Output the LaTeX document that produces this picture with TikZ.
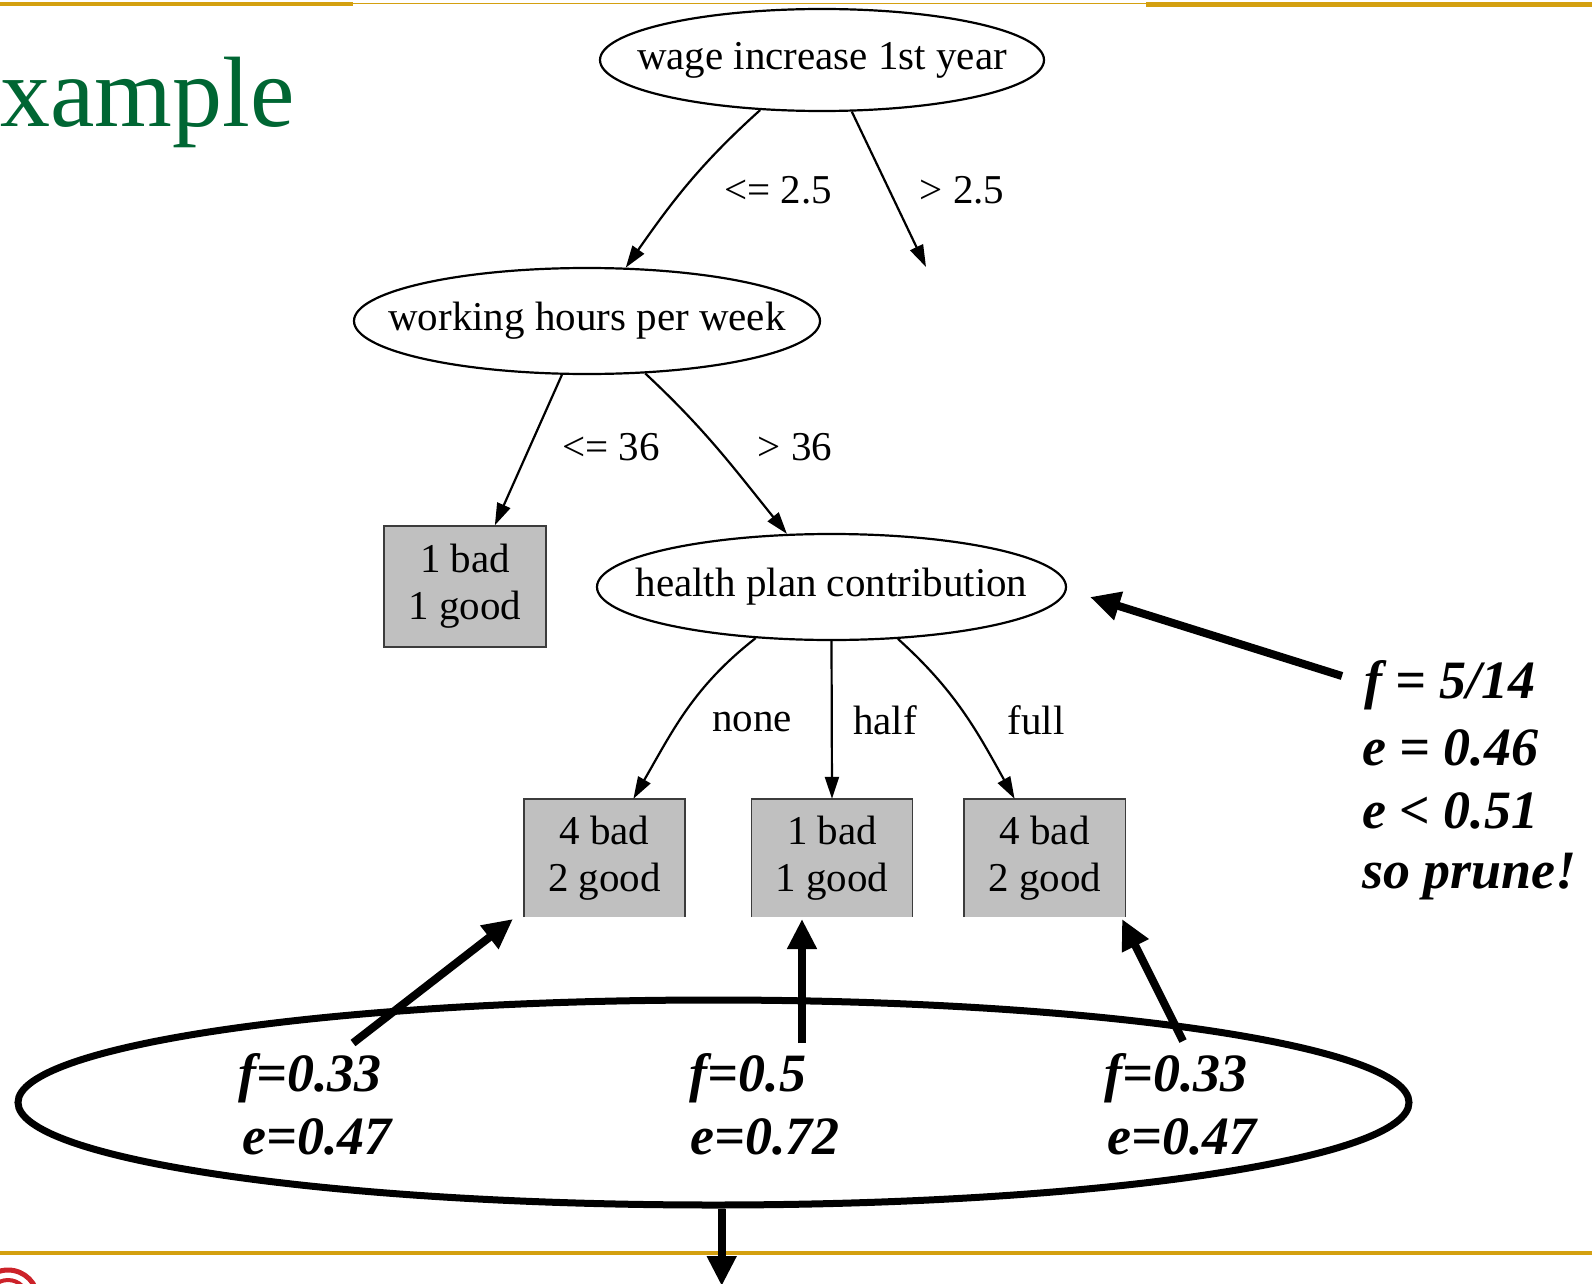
\documentclass[tikz,border=0pt]{standalone}
\usepackage{fontspec}
\setmainfont{Liberation Serif}
\usetikzlibrary{arrows.meta,shapes.geometric,calc}
\definecolor{gold}{RGB}{212,160,16}
\definecolor{titlegreen}{RGB}{0,102,51}
\definecolor{boxgray}{RGB}{192,192,192}
\definecolor{boxline}{RGB}{60,60,60}
\definecolor{logored}{RGB}{204,34,41}
\begin{document}
\begin{tikzpicture}[x=1pt,y=1pt,
  treefont/.style={font=\fontsize{41}{47}\selectfont},
  ell/.style={ellipse, draw, line width=2.2pt, inner sep=0pt},
  leaf/.style={rectangle, fill=boxgray, inner sep=0pt, align=center, treefont},
  edge/.style={line width=2.2pt, -{Triangle[length=22pt,width=14pt]}},
  lbl/.style={inner sep=0pt, treefont},
  bigarrow/.style={line width=8pt, -{Triangle[length=30pt,width=28pt]}},
  note/.style={inner sep=0pt, anchor=base west, font=\fontsize{54}{64}\selectfont\bfseries\itshape},
  bnote/.style={inner sep=0pt, anchor=base, font=\fontsize{54}{64}\selectfont\bfseries\itshape}
]
\useasboundingbox (0,0) rectangle (1592,-1284);

% slide decorations
\fill[gold] (0,-2.5) rectangle (353,-6.5);
\draw[gold, line width=1.2pt] (353,-3.3) -- (1146,-3.3);
\fill[gold] (1146,-2.5) rectangle (1592,-6.7);
\fill[gold] (0,-1251) rectangle (1592,-1255);
\draw[logored, line width=5pt] (8,-1300) circle (30);
\draw[logored, line width=4pt] (8,-1300) circle (20);
\node[anchor=base east, inner sep=0pt, text=titlegreen, font=\fontsize{100}{110}\selectfont] (title) at (295,-127) {xample};

% tree nodes
\node[ell, minimum width=444, minimum height=102, label={[treefont]center:wage increase 1st year}] (root) at (822,-60) {};
\node[ell, minimum width=466, minimum height=106, label={[treefont]center:working hours per week}] (wh) at (587,-321) {};
\node[ell, minimum width=469, minimum height=106, label={[treefont]center:health plan contribution}] (hp) at (831.5,-587) {};

\node[leaf, minimum width=162, minimum height=121, draw=boxline, line width=1.5pt] (lb) at (465,-586.5) {1 bad\\1 good};
\node[leaf, minimum width=161, minimum height=118] (b1) at (604.5,-858) {4 bad\\2 good};
\node[leaf, minimum width=161, minimum height=118] (b2) at (832,-858) {1 bad\\1 good};
\node[leaf, minimum width=161, minimum height=118] (b3) at (1044.75,-858) {4 bad\\2 good};
\foreach \b in {b1,b2,b3}
  \draw[boxline, line width=1.5pt] (\b.south west) -- (\b.north west) -- (\b.north east) -- (\b.south east);

% tree edges
\coordinate (rend) at (926,-267);
\draw[edge] (root.219) to[out=-138,in=55] (wh.54);
\draw[edge] (root.-60) -- (rend);
\draw[edge] (wh.245) -- (lb.64.6);
\draw[edge] (wh.-42) to[out=-43,in=129] (hp.130.6);
\draw[edge] (hp.214.8) to[out=-142,in=60] (b1.64.6);
\draw[edge] (hp.south) -- (b2.north);
\draw[edge] (hp.-38.9) to[out=-42,in=119] (b3.117.9);

% edge labels
\node[lbl] (l1) at (778,-190) {<= 2.5};
\node[lbl] (l2) at (962,-190) {> 2.5};
\node[lbl] (l3) at (611,-447) {<= 36};
\node[lbl] (l4) at (795,-447) {> 36};
\node[lbl] (l5) at (752,-722) {none};
\node[lbl] (l6) at (885,-720) {half};
\node[lbl] (l7) at (1036,-720) {full};

% annotation at right
\node[note] (n1) at (1364,-698) {f = 5/14};
\node[note] (n2) at (1362,-765) {e = 0.46};
\node[note] (n3) at (1362,-828) {e < 0.51};
\node[note] (n4) at (1362,-888) {so prune!};
\coordinate (ftail) at (1342,-676);
\coordinate (fhead) at (1090,-597);
\draw[bigarrow] (ftail) -- (fhead);

% big ellipse with leaf statistics
\node[ellipse, draw, line width=7pt, inner sep=0pt, minimum width=1391, minimum height=205] (big) at (713.5,-1102.5) {};
\node[bnote] (f1) at (310,-1091) {f=0.33};
\node[bnote] (e1) at (317,-1154) {e=0.47};
\node[bnote] (f2) at (748,-1091) {f=0.5};
\node[bnote] (e2) at (765,-1154) {e=0.72};
\node[bnote] (f3) at (1176,-1091) {f=0.33};
\node[bnote] (e3) at (1182,-1154) {e=0.47};

\coordinate (t1) at (353,-1043); \coordinate (h1) at (513,-919);
\coordinate (t2) at (802,-1043); \coordinate (h2) at (802,-919);
\coordinate (t3) at (1183,-1041); \coordinate (h3) at (1122,-919);
\draw[bigarrow] (t1) -- (h1);
\draw[bigarrow] (t2) -- (h2);
\draw[bigarrow] (t3) -- (h3);

\coordinate (dn) at (721.7,-1286);
\draw[bigarrow] (big.south -| dn) -- (dn);
\end{tikzpicture}
\end{document}
